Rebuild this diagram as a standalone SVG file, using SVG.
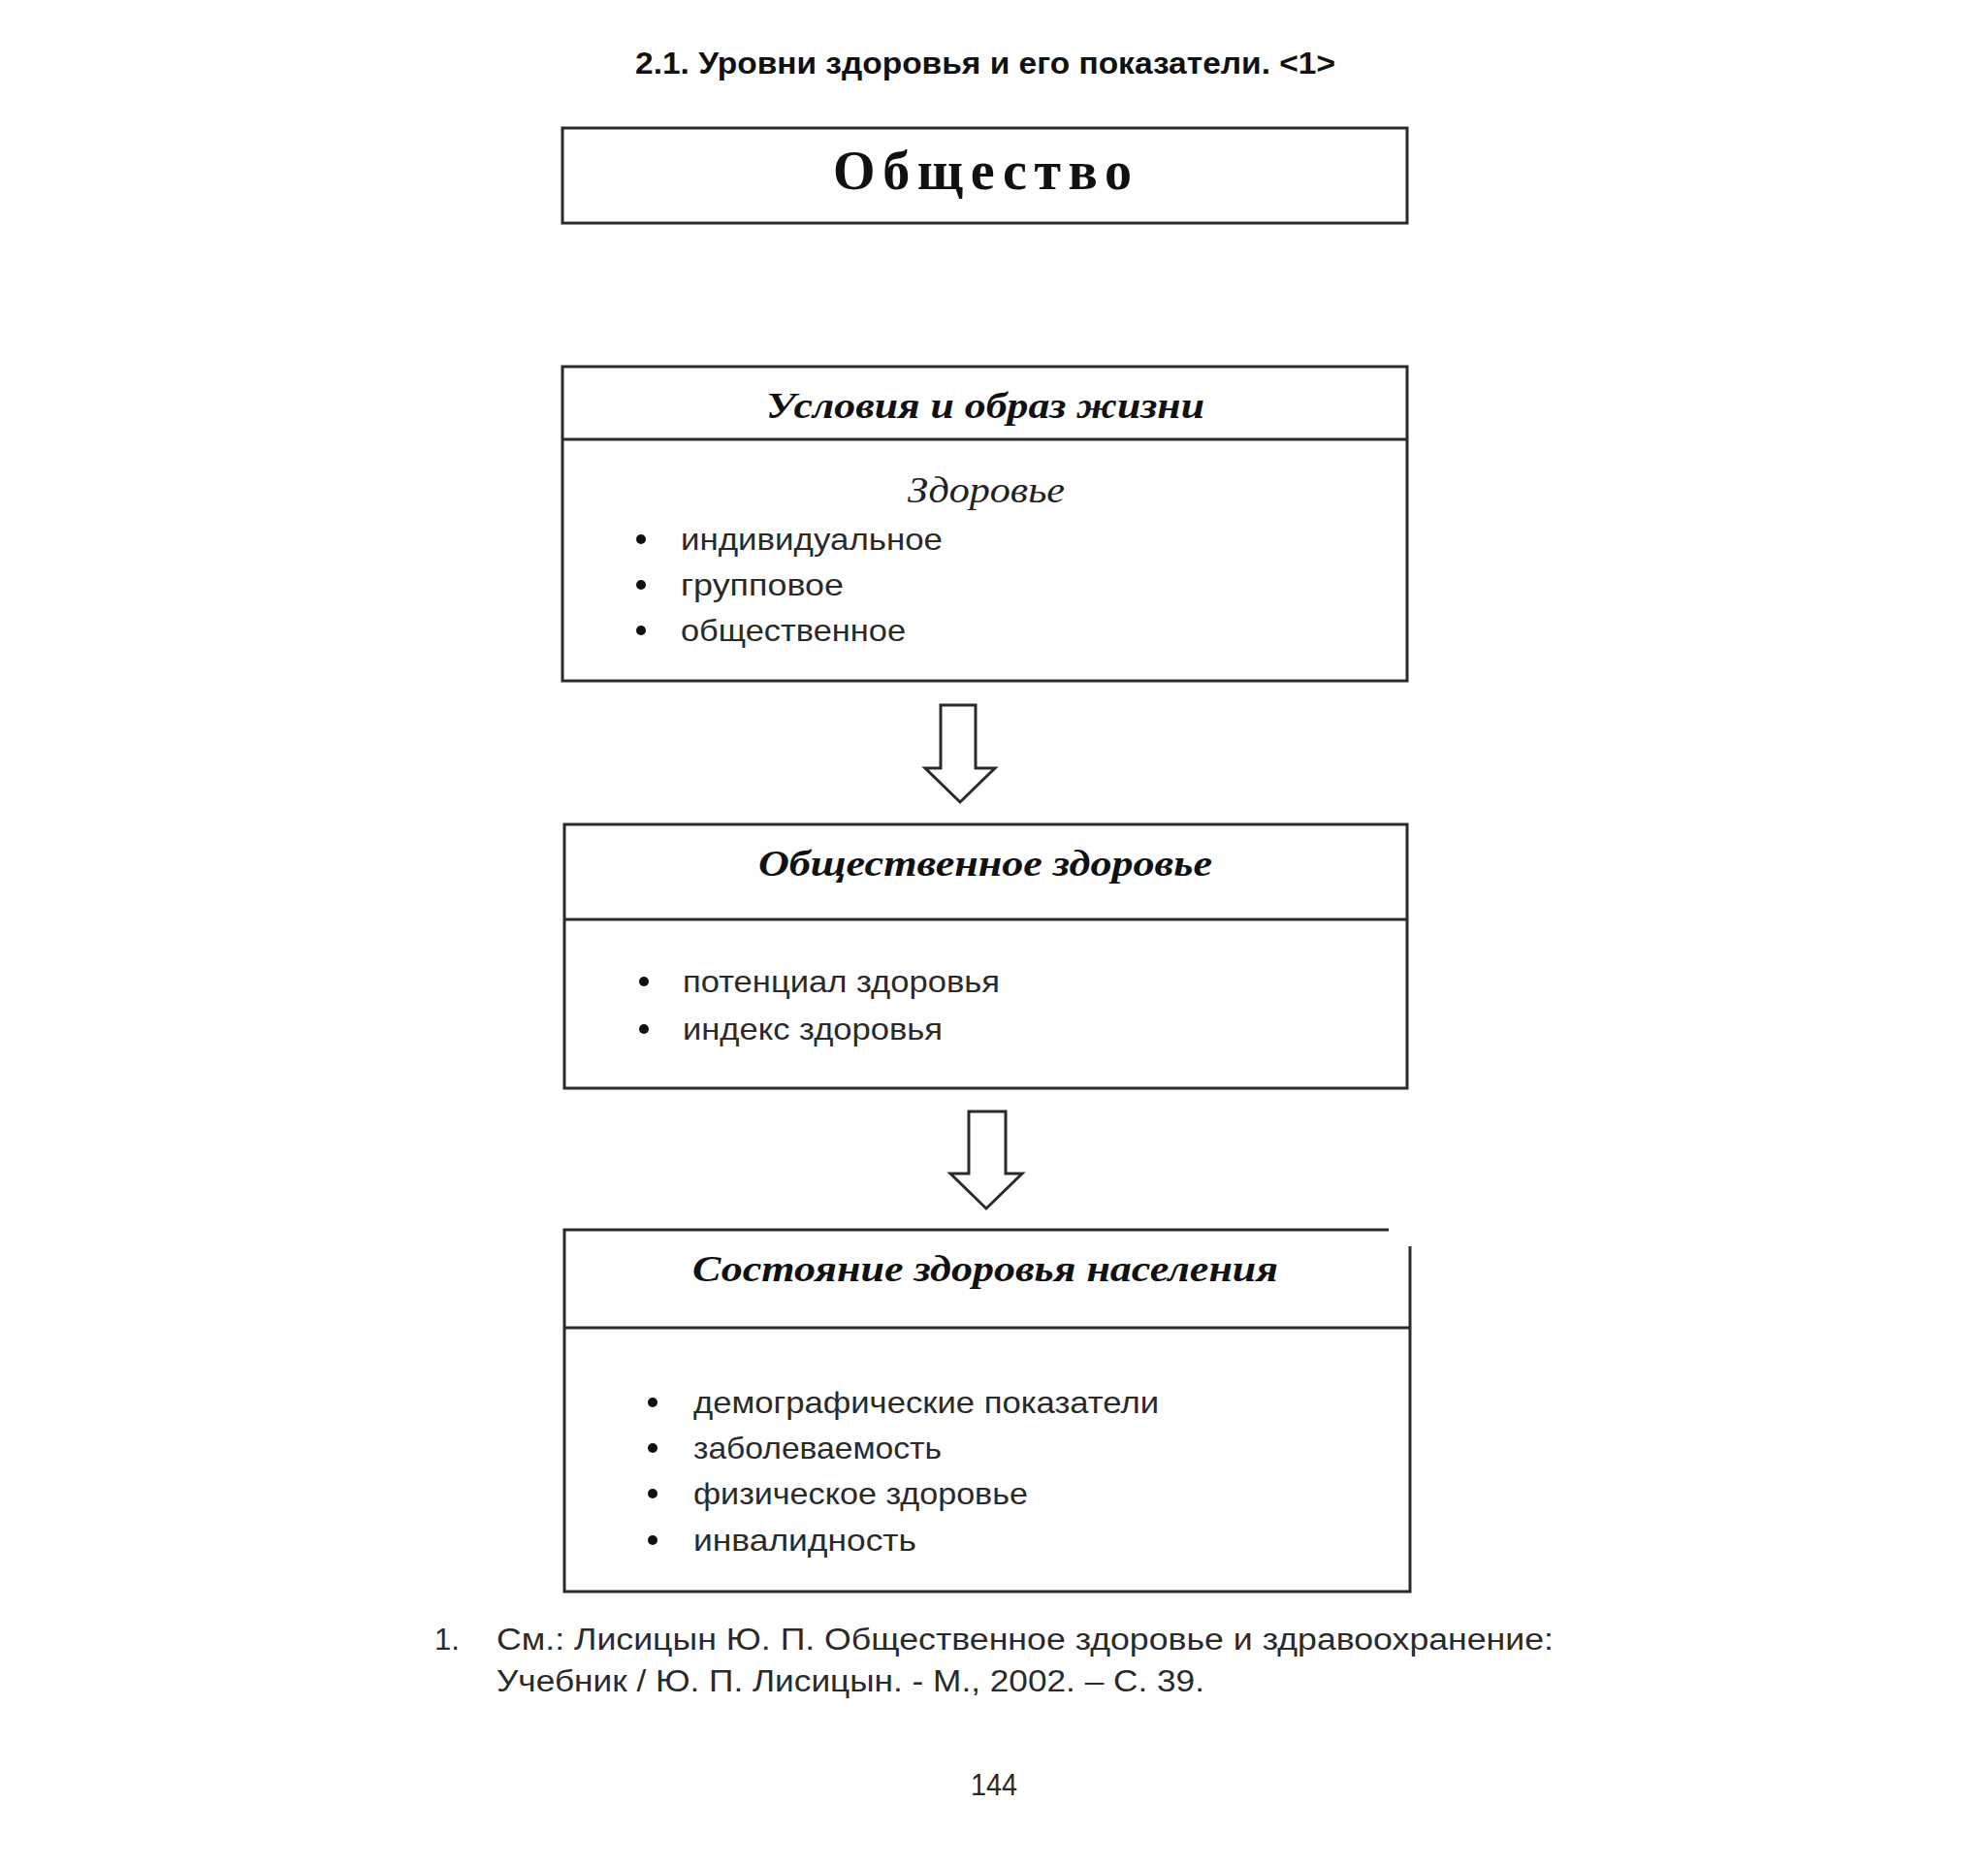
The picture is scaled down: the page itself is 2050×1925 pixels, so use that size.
<svg xmlns="http://www.w3.org/2000/svg" width="2050" height="1925" viewBox="0 0 2050 1925">
<style>
.box{fill:none;stroke:#2a2a2a;stroke-width:3}
.sep{stroke:#2a2a2a;stroke-width:3}
.arrow{fill:#fff;stroke:#2a2a2a;stroke-width:3;stroke-linejoin:miter}
.title{font-family:"Liberation Sans",Arial,sans-serif;font-weight:bold;font-size:31px;fill:#111}
.big{font-family:"Liberation Serif","Times New Roman",serif;font-weight:bold;font-size:56px;fill:#111}
.head{font-family:"Liberation Serif","Times New Roman",serif;font-weight:bold;font-style:italic;font-size:38px;fill:#111}
.sub{font-family:"Liberation Serif","Times New Roman",serif;font-style:italic;font-size:38px;fill:#222}
.item{font-family:"Liberation Sans",Arial,sans-serif;font-size:32px;fill:#2a2a2a}
.note{font-family:"Liberation Sans",Arial,sans-serif;font-size:31px;fill:#2a2a2a}
.dot{fill:#111}
</style>
<rect width="2050" height="1925" fill="#fff"/>
<text class="title" x="1016" y="76" text-anchor="middle" textLength="722" lengthAdjust="spacingAndGlyphs">2.1. Уровни здоровья и его показатели. &lt;1&gt;</text>

<g id="node-society">
<rect class="box" x="580" y="132" width="871" height="98"/>
<text class="big" x="1013" y="195" text-anchor="middle" textLength="308" lengthAdjust="spacing">Общество</text>
</g>

<g id="node-conditions">
<rect class="box" x="580" y="378" width="871" height="324"/>
<line class="sep" x1="580" y1="453" x2="1451" y2="453"/>
<text class="head" x="1016" y="431" text-anchor="middle" textLength="452" lengthAdjust="spacingAndGlyphs">Условия и образ жизни</text>
<text class="sub" x="1017" y="518" text-anchor="middle" textLength="162" lengthAdjust="spacingAndGlyphs">Здоровье</text>
<circle class="dot" cx="661" cy="556" r="5"/>
<circle class="dot" cx="661" cy="603" r="5"/>
<circle class="dot" cx="661" cy="650" r="5"/>
<text class="item" x="702" y="567" textLength="270" lengthAdjust="spacingAndGlyphs">индивидуальное</text>
<text class="item" x="702" y="614" textLength="168" lengthAdjust="spacingAndGlyphs">групповое</text>
<text class="item" x="702" y="661" textLength="232" lengthAdjust="spacingAndGlyphs">общественное</text>
</g>

<g id="node-public-health">
<rect class="box" x="582" y="850" width="869" height="272"/>
<line class="sep" x1="582" y1="948" x2="1451" y2="948"/>
<text class="head" x="1016" y="903" text-anchor="middle" textLength="468" lengthAdjust="spacingAndGlyphs">Общественное здоровье</text>
<circle class="dot" cx="664" cy="1012" r="5"/>
<circle class="dot" cx="664" cy="1061" r="5"/>
<text class="item" x="704" y="1023" textLength="327" lengthAdjust="spacingAndGlyphs">потенциал здоровья</text>
<text class="item" x="704" y="1072" textLength="268" lengthAdjust="spacingAndGlyphs">индекс здоровья</text>
</g>

<g id="node-population">
<path class="box" d="M1432 1268 H582 V1641 H1454 V1285"/>
<line class="sep" x1="582" y1="1369" x2="1454" y2="1369"/>
<text class="head" x="1016" y="1321" text-anchor="middle" textLength="604" lengthAdjust="spacingAndGlyphs">Состояние здоровья населения</text>
<circle class="dot" cx="673" cy="1446" r="5"/>
<circle class="dot" cx="673" cy="1493" r="5"/>
<circle class="dot" cx="673" cy="1540" r="5"/>
<circle class="dot" cx="673" cy="1588" r="5"/>
<text class="item" x="715" y="1457" textLength="480" lengthAdjust="spacingAndGlyphs">демографические показатели</text>
<text class="item" x="715" y="1504" textLength="256" lengthAdjust="spacingAndGlyphs">заболеваемость</text>
<text class="item" x="715" y="1551" textLength="345" lengthAdjust="spacingAndGlyphs">физическое здоровье</text>
<text class="item" x="715" y="1599" textLength="230" lengthAdjust="spacingAndGlyphs">инвалидность</text>
</g>

<g id="connectors">
<path class="arrow" d="M970 727 H1006 V792 H1026 L990 827 L954 792 H970 Z"/>
<path class="arrow" d="M999 1146 H1037 V1210 H1054 L1017 1246 L980 1210 H999 Z"/>
</g>

<text class="note" x="448" y="1701">1.</text>
<text class="note" x="512" y="1701" textLength="1090" lengthAdjust="spacingAndGlyphs">См.: Лисицын Ю. П. Общественное здоровье и здравоохранение:</text>
<text class="note" x="512" y="1744" textLength="730" lengthAdjust="spacingAndGlyphs">Учебник / Ю. П. Лисицын. - М., 2002. – С. 39.</text>
<text class="note" x="1025" y="1851" text-anchor="middle" textLength="48" lengthAdjust="spacingAndGlyphs">144</text>
</svg>
